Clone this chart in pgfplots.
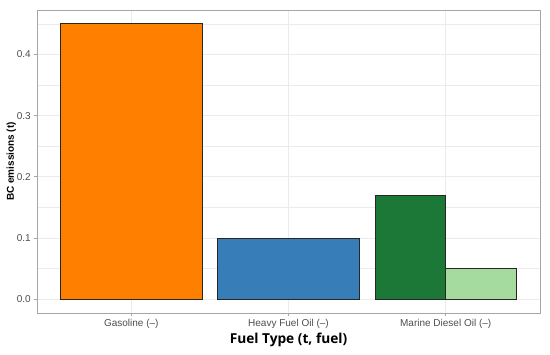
\documentclass[border=0pt]{standalone}
\usepackage{fontspec}
\setmainfont{Liberation Sans}
\newfontfamily\titlefont{Open Sans}
\usepackage{pgfplots}
\pgfplotsset{compat=1.18}
\definecolor{cOrange}{HTML}{FF7F00}
\definecolor{cBlue}{HTML}{377EB8}
\definecolor{cDkGreen}{HTML}{1B7837}
\definecolor{cLtGreen}{HTML}{A6DBA0}
\definecolor{gridc}{HTML}{EBEBEB}
\definecolor{borderc}{HTML}{A6A6A6}
\definecolor{tickc}{HTML}{4D4D4D}
\begin{document}
\begin{tikzpicture}
\begin{axis}[
  scale only axis, width=503pt, height=303pt,
  xmin=0.4, xmax=3.6, ymin=-0.0225, ymax=0.4725,
  axis line style={borderc, line width=0.6pt},
  xtick={1,2,3},
  xticklabels={Gasoline (--),Heavy Fuel Oil (--),Marine Diesel Oil (--)},
  ytick={0,0.1,0.2,0.3,0.4},
  minor ytick={0.05,0.15,0.25,0.35,0.45},
  yticklabel style={/pgf/number format/.cd, fixed, fixed zerofill, precision=1},
  /pgf/number format/assume math mode=true,
  grid=both,
  major grid style={gridc, line width=0.6pt},
  minor grid style={gridc, line width=0.3pt},
  tick align=outside, tick pos=left,
  major tick length=2.75pt, minor tick length=0pt,
  tick style={borderc, line width=0.6pt},
  ticklabel style={font=\fontsize{10}{11}\selectfont, text=tickc},
  xlabel={\titlefont\bfseries Fuel Type (t, fuel)},
  xlabel style={font=\fontsize{13.7}{15}\selectfont, yshift=2pt},
  ylabel={\bfseries BC emissions (t)},
  ylabel style={font=\fontsize{10}{11}\selectfont, yshift=-6pt},
]
\addplot[ybar, bar shift=0pt, bar width=0.9, fill=cOrange, draw=black!85, line width=0.6pt]
  coordinates {(1,0.45)};
\addplot[ybar, bar shift=0pt, bar width=0.9, fill=cBlue, draw=black!85, line width=0.6pt]
  coordinates {(2,0.10)};
\addplot[ybar, bar shift=0pt, bar width=0.45, fill=cDkGreen, draw=black!85, line width=0.6pt]
  coordinates {(2.775,0.17)};
\addplot[ybar, bar shift=0pt, bar width=0.45, fill=cLtGreen, draw=black!85, line width=0.6pt]
  coordinates {(3.225,0.05)};
\end{axis}
\useasboundingbox (-37pt,-42pt) rectangle (513pt,313pt);
\end{tikzpicture}
\end{document}
